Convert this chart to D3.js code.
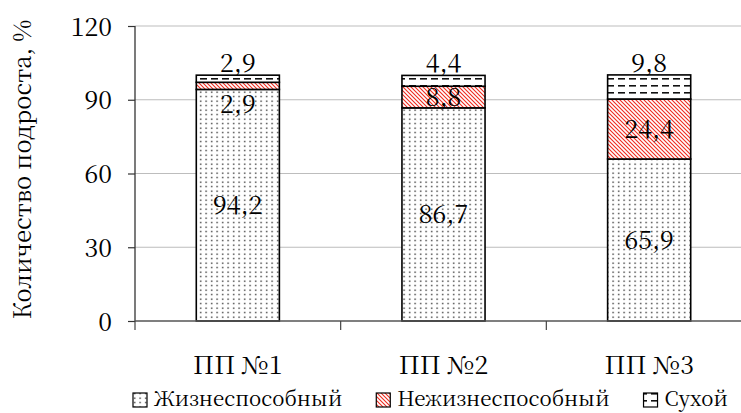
<!DOCTYPE html>
<html><head><meta charset="utf-8">
<script src="https://cdn.jsdelivr.net/npm/d3@7"></script>
<style>
body{margin:0;background:#fff}
svg{display:block}
svg text{font-family:"Noto Serif CJK SC","Noto Serif CJK JP",serif}
</style>
</head><body><svg id="chart" width="741" height="413"></svg>
<script>
// Share of undergrowth by condition on each sample plot, %
const categories = ["ПП №1", "ПП №2", "ПП №3"];
const viable = [94.2, 86.7, 65.9];
const nonviable = [2.9, 8.8, 24.4];
const dry = [2.9, 4.4, 9.8];
const seriesNames = ["Жизнеспособный", "Нежизнеспособный", "Сухой"];
const yTicks = [0, 30, 60, 90, 120];
const yTitle = "Количество подроста, %";

const svg = d3.select("#chart");
const plotL = 135, plotR = 752, plotT = 26, plotB = 321;
const fs = 25;

const x = d3.scaleBand().domain(categories).range([plotL, plotR])
  .paddingInner(0.596).paddingOuter(0.298);
const xCells = d3.scaleBand().domain(categories).range([plotL, plotR]).padding(0);
const y = d3.scaleLinear().domain([0, 120]).range([plotB, plotT]);

// fill patterns
const defs = svg.append("defs");
const dots = defs.append("pattern").attr("id", "pDots").attr("patternUnits", "userSpaceOnUse")
  .attr("width", 5.5).attr("height", 4.5);
dots.append("rect").attr("width", 5.5).attr("height", 4.5).attr("fill", "#fff");
dots.append("rect").attr("x", 2).attr("y", 1.5).attr("width", 1.3).attr("height", 1.3).attr("fill", "#111");

const hatch = defs.append("pattern").attr("id", "pHatch").attr("patternUnits", "userSpaceOnUse")
  .attr("width", 4).attr("height", 4);
hatch.append("rect").attr("width", 4).attr("height", 4).attr("fill", "#fff");
hatch.append("path").attr("d", "M-1,-1 L5,5 M-1,3 L1,5 M3,-1 L5,1")
  .attr("stroke", "#f02a1e").attr("stroke-width", 1.1);

const dash = defs.append("pattern").attr("id", "pDash").attr("patternUnits", "userSpaceOnUse")
  .attr("width", 11).attr("height", 7);
dash.append("rect").attr("width", 11).attr("height", 7).attr("fill", "#fff");
dash.append("rect").attr("x", 2).attr("y", 1).attr("width", 7).attr("height", 1.6).attr("fill", "#111");

const fills = ["url(#pDots)", "url(#pHatch)", "url(#pDash)"];

// gridlines
svg.append("g").selectAll("line").data(yTicks.filter(d => d > 0)).join("line")
  .attr("x1", plotL).attr("x2", 741).attr("y1", d => y(d)).attr("y2", d => y(d))
  .attr("stroke", "#bdbdbd").attr("stroke-width", 1.2);

// stacked bars
const stackData = categories.map((c, i) => ({ cat: c, v0: viable[i], v1: nonviable[i], v2: dry[i] }));
const stack = d3.stack().keys(["v0", "v1", "v2"])(stackData);

const gBars = svg.append("g");
stack.forEach((layer, k) => {
  gBars.selectAll(null).data(layer).join("rect")
    .attr("x", d => x(d.data.cat))
    .attr("width", x.bandwidth())
    .attr("y", d => y(d[1]))
    .attr("height", d => y(d[0]) - y(d[1]))
    .attr("fill", fills[k])
    .attr("stroke", "#000").attr("stroke-width", 1.6);
});

// y axis
const yAxis = svg.append("g").attr("transform", `translate(${plotL},0)`)
  .call(d3.axisLeft(y).tickValues(yTicks).tickSize(7).tickPadding(16).tickFormat(d3.format("d")));
yAxis.attr("font-family", null).attr("font-size", null);
yAxis.select(".domain").attr("stroke", "#333").attr("stroke-width", 1.3).attr("d", `M0,${plotT}V${plotB}`);
yAxis.selectAll(".tick line").attr("stroke", "#333").attr("stroke-width", 1.2);
yAxis.selectAll(".tick text").attr("font-size", fs).attr("fill", "#000").attr("dy", "0.36em");

// x axis
svg.append("line").attr("x1", plotL).attr("x2", 741).attr("y1", plotB).attr("y2", plotB)
  .attr("stroke", "#555").attr("stroke-width", 1.5);
const xTickPos = categories.map(c => xCells(c)).concat([plotR]);
svg.append("g").selectAll("line").data(xTickPos).join("line")
  .attr("x1", d => d).attr("x2", d => d).attr("y1", plotB).attr("y2", plotB + 9)
  .attr("stroke", "#444").attr("stroke-width", 1.2);
svg.append("g").selectAll("text").data(categories).join("text")
  .attr("x", d => x(d) + x.bandwidth() / 2).attr("y", 374)
  .attr("text-anchor", "middle").attr("font-size", fs)
  .text(d => d);

// y title
svg.append("text").attr("transform", `translate(31,${(plotT + plotB) / 2 - 4}) rotate(-90)`)
  .attr("text-anchor", "middle").attr("font-size", 23.8).text(yTitle);

// value labels
const fmt = v => String(v).replace(".", ",");
const gLab = svg.append("g").attr("font-size", fs).attr("text-anchor", "middle");
stack.forEach((layer, k) => {
  layer.forEach(d => {
    const cx = x(d.data.cat) + x.bandwidth() / 2;
    const v = d[1] - d[0];
    const yT = y(d[1]), yB = y(d[0]);
    let ty;
    if (k === 2) ty = yT - 3;                  // top segment: label above bar
    else if (yB - yT < 20) ty = yB + 24;       // thin segment: label below it
    else ty = (yT + yB) / 2 + 9;               // centred in segment
    gLab.append("text").attr("x", cx).attr("y", ty).text(fmt(+v.toFixed(1)));
  });
});

// legend
const lg = svg.append("g").attr("font-size", 20.5);
let lx = 133;
seriesNames.forEach((name, i) => {
  lg.append("rect").attr("x", lx).attr("y", 393).attr("width", 14).attr("height", 14)
    .attr("fill", fills[i]).attr("stroke", "#000").attr("stroke-width", 1.2);
  const t = lg.append("text").attr("x", lx + 21).attr("y", 406).text(name);
  lx += 21 + t.node().getComputedTextLength() + 34;
});
</script>
</body></html>
